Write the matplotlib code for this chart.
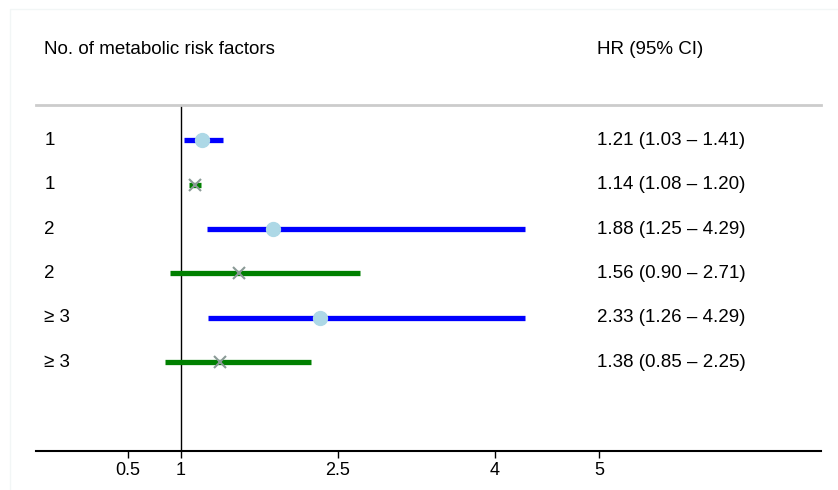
import matplotlib
matplotlib.use("Agg")
import matplotlib.pyplot as plt
from matplotlib.patches import Rectangle

plt.rcParams['font.family'] = ['Liberation Sans', 'DejaVu Sans']

# rows, top to bottom
groups = ['1', '1', '2', '2', '≥ 3', '≥ 3']
hr = [1.21, 1.14, 1.88, 1.56, 2.33, 1.38]
lo = [1.03, 1.08, 1.25, 0.90, 1.26, 0.85]
hi = [1.41, 1.20, 4.29, 2.71, 4.29, 2.25]
ci_text = ['1.21 (1.03 – 1.41)', '1.14 (1.08 – 1.20)', '1.88 (1.25 – 4.29)',
           '1.56 (0.90 – 2.71)', '2.33 (1.26 – 4.29)', '1.38 (0.85 – 2.25)']
series = ['a', 'b', 'a', 'b', 'a', 'b']
xticks = [0.5, 1, 2.5, 4, 5]

fs = 13.5

fig = plt.figure(figsize=(8.38, 4.9), dpi=100)
ax = fig.add_axes([0.043, 0.0796, 0.937, 0.7066])

# faint outer frame
fig.patches.append(Rectangle((0.012, -0.05), 1.1, 1.032, transform=fig.transFigure,
                             fill=False, edgecolor='#f2f6f6', linewidth=1))

ax.axvline(1, color='black', linewidth=1, zorder=1)

for i in range(len(hr)):
    y = i + 1
    if series[i] == 'a':
        ax.plot([lo[i], hi[i]], [y, y], color='#0000ff', linewidth=3.8,
                solid_capstyle='butt', zorder=2)
        ax.plot(hr[i], y, 'o', color='#add8e6', markersize=10, zorder=3)
    else:
        ax.plot([lo[i], hi[i]], [y, y], color='#008000', linewidth=3.8,
                solid_capstyle='butt', zorder=2)
        ax.plot(hr[i], y, 'x', color='#8a9a96', markersize=8, mew=1.5, zorder=3)
    ax.text(-0.3, y, groups[i], ha='left', va='center', fontsize=fs)
    ax.text(4.98, y, ci_text[i], ha='left', va='center', fontsize=fs)

ax.text(-0.3, -1.05, 'No. of metabolic risk factors', ha='left', va='center',
        fontsize=fs, clip_on=False)
ax.text(4.98, -1.05, 'HR (95% CI)', ha='left', va='center', fontsize=fs, clip_on=False)

ax.set_xlim(-0.38, 7.12)
ax.set_ylim(8, 0.2)
ax.set_xticks(xticks)
ax.set_xticklabels([str(t) for t in xticks], fontsize=13)
ax.set_yticks([])
ax.tick_params(axis='x', direction='out', length=5, width=1, pad=3)

ax.spines['left'].set_visible(False)
ax.spines['right'].set_visible(False)
ax.spines['top'].set_color('#cccccc')
ax.spines['top'].set_linewidth(2)
ax.spines['bottom'].set_linewidth(1.5)

fig.savefig('out.png', dpi=100)
